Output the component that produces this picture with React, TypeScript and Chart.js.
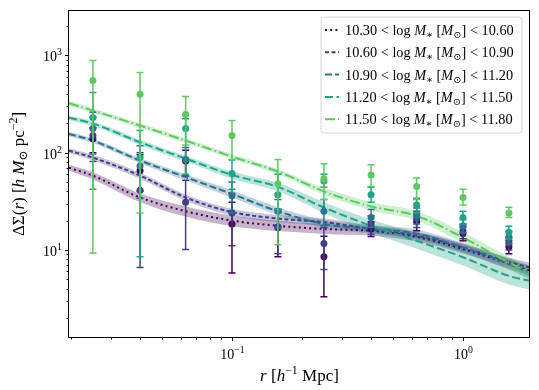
import React, { useEffect, useRef } from "react";
import { Chart, registerables } from "chart.js";
Chart.register(...registerables);

// radial bins (h^-1 Mpc)
const rBins = [0.025, 0.04, 0.063, 0.1, 0.158, 0.25, 0.4, 0.63, 1.0, 1.58];
const rModel = [0.0197, 0.025, 0.04, 0.063, 0.1, 0.158, 0.25, 0.4, 0.63, 1.0, 1.58, 1.95];

const massLow = ["10.30", "10.60", "10.90", "11.20", "11.50"];
const massHigh = ["10.60", "10.90", "11.20", "11.50", "11.80"];
const colors = ["#440154", "#433e85", "#2c728e", "#20a386", "#5ec962"];
const dashes = [[2, 3.2], [4, 2.5], [7, 3], [8, 3.5], [10, 3, 1.5, 3]];

// observed points + error bar bounds
const obs1 = [139, 65, 82, 18.5, 17, 8.5, 16.4, 19.6, 14.7, 10.8];
const obs1Lo = [100, 40, 58, 5.8, 8.5, 3.3, 13.7, 15.7, 12.4, 9.1];
const obs1Hi = [180, 95, 106, 31, 26, 13.8, 19.5, 23.5, 17, 12.5];

const obs2 = [150, 41, 31, 24, 17.3, 11.6, 18.5, 21, 15.7, 11.8];
const obs2Lo = [81, 6.6, 10.1, 11, 9.1, 6.3, 14.5, 17, 13, 10];
const obs2Hi = [230, 100, 52, 38, 26, 17, 22.5, 25, 18.5, 13.7];

const obs3 = [177, 73, 85, 36, 25, 25, 21.5, 22.5, 17.7, 13.4];
const obs3Lo = [97, 34, 58, 24, 17, 17.7, 17, 18.5, 15, 11.5];
const obs3Hi = [260, 118, 113, 50, 33, 33, 26, 27, 20.5, 15.5];

const obs4 = [230, 89, 177, 61, 37, 51, 37, 29, 21.5, 15.2];
const obs4Lo = [42, 8.5, 60, 42, 26, 44, 31, 24, 18.5, 13];
const obs4Hi = [416, 169, 224, 84, 60, 60, 44, 34, 25, 17.5];

const obs5 = [552, 400, 247, 150, 48, 54, 59, 45, 34.5, 24];
const obs5Lo = [9.3, 24, 120, 85, 11.3, 33, 45, 33, 29, 21.5];
const obs5Hi = [888, 667, 378, 214, 85, 77, 75, 55, 42, 27.5];

// model curves + shaded bands
const mod1 = [70, 58, 34.6, 25, 20, 17.7, 16.4, 15.7, 13.6, 10.2, 7.2, 6.1];
const mod1Lo = [65, 53, 31, 22, 17.5, 15.6, 14.6, 14, 12.2, 9.2, 6.4, 5.4];
const mod1Hi = [75, 63, 38, 28, 22.5, 20, 18.4, 17.5, 15.2, 11.4, 8.1, 6.9];

const mod2 = [105, 89, 58, 34.6, 24.5, 21, 19.3, 16.4, 14, 10.6, 7.5, 6.6];
const mod2Lo = [99, 83, 54, 32, 22.5, 19.3, 17.7, 15, 12.8, 9.6, 6.7, 5.8];
const mod2Hi = [111, 95, 62, 37, 26.5, 22.8, 21, 17.8, 15.3, 11.6, 8.3, 7.4];

const mod3 = [156, 133, 83, 56, 37.6, 25, 18.5, 16.4, 14.7, 10.6, 7.2, 5.8];
const mod3Lo = [148, 126, 78, 52, 34.5, 22.8, 16.8, 14.8, 13.2, 9.4, 6.3, 5.0];
const mod3Hi = [164, 140, 88, 60, 41, 27.4, 20.3, 18, 16.2, 11.8, 8.1, 6.6];

const mod4 = [229, 199, 128, 87, 59, 44.5, 27.3, 17.7, 12.4, 8.4, 5.4, 4.8];
const mod4Lo = [217, 188, 120, 81, 54, 40, 24, 15, 10.3, 6.9, 4.4, 3.9];
const mod4Hi = [241, 210, 136, 93, 64, 49, 31, 20.5, 14.8, 10.2, 6.6, 5.9];

const mod5 = [322, 271, 190, 133, 91, 64, 40, 28, 22.4, 13.4, 7.4, 5.8];
const mod5Lo = [305, 256, 180, 126, 86, 60, 37, 25.5, 20, 11.8, 6.4, 5.0];
const mod5Hi = [340, 287, 201, 141, 97, 68, 43.5, 31, 25, 15.2, 8.5, 6.7];

const X_MIN = 0.0197, X_MAX = 1.95, Y_MIN = 1.24, Y_MAX = 2938;

const obs = [obs1, obs2, obs3, obs4, obs5];
const obsLo = [obs1Lo, obs2Lo, obs3Lo, obs4Lo, obs5Lo];
const obsHi = [obs1Hi, obs2Hi, obs3Hi, obs4Hi, obs5Hi];
const mods = [mod1, mod2, mod3, mod4, mod5];
const modsLo = [mod1Lo, mod2Lo, mod3Lo, mod4Lo, mod5Lo];
const modsHi = [mod1Hi, mod2Hi, mod3Hi, mod4Hi, mod5Hi];

const FONT = '"Liberation Serif", "DejaVu Serif", serif';

type Seg = { t: string; it?: boolean; sc?: number; dy?: number };

function fontFor(s: Seg, size: number) {
  return `${s.it ? "italic " : ""}${(size * (s.sc || 1)).toFixed(2)}px ${FONT}`;
}
function segsWidth(ctx: CanvasRenderingContext2D, segs: Seg[], size: number) {
  let w = 0;
  for (const s of segs) {
    ctx.font = fontFor(s, size);
    w += ctx.measureText(s.t).width;
  }
  return w;
}
function drawSegs(ctx: CanvasRenderingContext2D, segs: Seg[], x: number, y: number, size: number) {
  let cx = x;
  ctx.textBaseline = "alphabetic";
  ctx.textAlign = "left";
  for (const s of segs) {
    ctx.font = fontFor(s, size);
    ctx.fillText(s.t, cx, y + (s.dy || 0));
    cx += ctx.measureText(s.t).width;
  }
}

function hexA(hex: string, a: number) {
  const n = parseInt(hex.slice(1), 16);
  return `rgba(${(n >> 16) & 255},${(n >> 8) & 255},${n & 255},${a})`;
}

const supMap: Record<string, string> = { "-1": "\u22121", "0": "0", "1": "1", "2": "2", "3": "3" };

const decorPlugin = {
  id: "decor",
  beforeDatasetDraw(chart: any, args: any) {
    const ds = chart.data.datasets[args.index];
    if (ds.errSeries === undefined) return;
    const s = ds.errSeries;
    const ctx = chart.ctx;
    const xs = chart.scales.x, ys = chart.scales.y;
    const ca = chart.chartArea;
    ctx.save();
    ctx.beginPath();
    ctx.rect(ca.left, ca.top, ca.right - ca.left, ca.bottom - ca.top);
    ctx.clip();
    ctx.strokeStyle = colors[s];
    ctx.lineWidth = 1.5;
    for (let i = 0; i < rBins.length; i++) {
      const px = xs.getPixelForValue(rBins[i]);
      const y1 = ys.getPixelForValue(obsLo[s][i]);
      const y2 = ys.getPixelForValue(obsHi[s][i]);
      ctx.beginPath();
      ctx.moveTo(px, y1); ctx.lineTo(px, y2);
      ctx.moveTo(px - 3.5, y1); ctx.lineTo(px + 3.5, y1);
      ctx.moveTo(px - 3.5, y2); ctx.lineTo(px + 3.5, y2);
      ctx.stroke();
    }
    ctx.restore();
  },
  afterDraw(chart: any) {
    const ctx: CanvasRenderingContext2D = chart.ctx;
    const xs = chart.scales.x, ys = chart.scales.y;
    const { left, right, top, bottom } = chart.chartArea;
    ctx.save();
    // frame
    ctx.strokeStyle = "#000";
    ctx.lineWidth = 1;
    const L = Math.round(left) - 0.5, R = Math.round(right) - 0.5;
    const T = Math.round(top) + 0.5, B = Math.round(bottom) - 0.5;
    ctx.strokeRect(L, T, R - L, B - T);
    // ticks
    ctx.fillStyle = "#000";
    for (let d = -2; d <= 3; d++) {
      for (let m = 1; m <= 9; m++) {
        const v = m * Math.pow(10, d);
        const len = m === 1 ? 3.5 : 2;
        if (v >= X_MIN && v <= X_MAX) {
          const px = Math.round(xs.getPixelForValue(v)) + 0.5;
          ctx.beginPath(); ctx.moveTo(px, B); ctx.lineTo(px, B + len); ctx.stroke();
          if (m === 1) {
            const segs: Seg[] = [{ t: "10" }, { t: supMap[String(d)], sc: 0.7, dy: -6 }];
            const w = segsWidth(ctx, segs, 14);
            drawSegs(ctx, segs, px - w / 2, 359, 14);
          }
        }
      }
    }
    for (let d = 0; d <= 3; d++) {
      for (let m = 1; m <= 9; m++) {
        const v = m * Math.pow(10, d);
        const len = m === 1 ? 3.5 : 2;
        if (v >= Y_MIN && v <= Y_MAX) {
          const py = Math.round(ys.getPixelForValue(v)) + 0.5;
          ctx.beginPath(); ctx.moveTo(L, py); ctx.lineTo(L - len, py); ctx.stroke();
          if (m === 1) {
            const segs: Seg[] = [{ t: "10" }, { t: supMap[String(d)], sc: 0.7, dy: -6 }];
            const w = segsWidth(ctx, segs, 14);
            drawSegs(ctx, segs, 62 - w, py + 5.5, 14);
          }
        }
      }
    }
    // x title
    const xt: Seg[] = [
      { t: "r", it: true }, { t: " [" }, { t: "h", it: true },
      { t: "\u22121", sc: 0.7, dy: -7 }, { t: " Mpc]" },
    ];
    const xw = segsWidth(ctx, xt, 17);
    drawSegs(ctx, xt, (left + right) / 2 - xw / 2, 381, 17);
    // y title
    const yt: Seg[] = [
      { t: "\u0394\u03A3(" }, { t: "r", it: true }, { t: ") [" }, { t: "h", it: true },
      { t: " " }, { t: "M", it: true }, { t: "\u2299", sc: 0.7, dy: 3 },
      { t: " pc" }, { t: "\u22122", sc: 0.7, dy: -7 }, { t: "]" },
    ];
    const yw = segsWidth(ctx, yt, 17);
    ctx.save();
    ctx.translate(24, (top + bottom) / 2);
    ctx.rotate(-Math.PI / 2);
    drawSegs(ctx, yt, -yw / 2, 0, 17);
    ctx.restore();
    // legend
    const bx = 321, by = 17, bw = 201, bh = 116, r = 3;
    ctx.beginPath();
    ctx.moveTo(bx + r, by);
    ctx.arcTo(bx + bw, by, bx + bw, by + bh, r);
    ctx.arcTo(bx + bw, by + bh, bx, by + bh, r);
    ctx.arcTo(bx, by + bh, bx, by, r);
    ctx.arcTo(bx, by, bx + bw, by, r);
    ctx.closePath();
    ctx.fillStyle = "rgba(255,255,255,0.8)";
    ctx.fill();
    ctx.strokeStyle = "#d6d6d6";
    ctx.lineWidth = 1;
    ctx.stroke();
    for (let s = 0; s < 5; s++) {
      const cy = 30 + s * 22.3;
      ctx.strokeStyle = colors[s];
      ctx.lineWidth = 2;
      ctx.setLineDash(dashes[s]);
      ctx.beginPath(); ctx.moveTo(325, cy); ctx.lineTo(339, cy); ctx.stroke();
      ctx.setLineDash([]);
      ctx.fillStyle = "#000";
      const segs: Seg[] = [
        { t: massLow[s] + " < log " }, { t: "M", it: true }, { t: "\u2217", sc: 0.7, dy: 3 },
        { t: " [" }, { t: "M", it: true }, { t: "\u2299", sc: 0.7, dy: 3 },
        { t: "] < " + massHigh[s] },
      ];
      drawSegs(ctx, segs, 345, cy + 5, 14.3);
    }
    ctx.restore();
  },
};

export default function App() {
  const ref = useRef<HTMLCanvasElement>(null);
  useEffect(() => {
    if (!ref.current) return;
    const datasets: any[] = [];
    for (let s = 0; s < 5; s++) {
      datasets.push({
        data: rModel.map((x, i) => ({ x, y: modsHi[s][i] })),
        borderWidth: 0, pointRadius: 0, fill: false, order: 300 - s,
        cubicInterpolationMode: "monotone",
      });
      datasets.push({
        data: rModel.map((x, i) => ({ x, y: modsLo[s][i] })),
        borderWidth: 0, pointRadius: 0, fill: "-1", order: 300 - s,
        backgroundColor: hexA(colors[s], 0.3),
        cubicInterpolationMode: "monotone",
      });
    }
    for (let s = 0; s < 5; s++) {
      datasets.push({
        data: rModel.map((x, i) => ({ x, y: mods[s][i] })),
        borderColor: colors[s], borderWidth: 2, borderDash: dashes[s],
        pointRadius: 0, fill: false, order: 200 - s,
        cubicInterpolationMode: "monotone",
      });
    }
    for (let s = 0; s < 5; s++) {
      datasets.push({
        data: rBins.map((x, i) => ({ x, y: obs[s][i] })),
        showLine: false, pointRadius: 3.5, pointBorderWidth: 0,
        pointBackgroundColor: colors[s], backgroundColor: colors[s], borderColor: colors[s],
        order: 100 - s, errSeries: s,
      });
    }
    const chart = new Chart(ref.current, {
      type: "line",
      data: { datasets },
      options: {
        animation: false,
        responsive: false,
        devicePixelRatio: 1,
        events: [],
        layout: { padding: { top: 10, right: 9, left: 0, bottom: 0 } },
        plugins: { legend: { display: false }, tooltip: { enabled: false } },
        scales: {
          x: {
            type: "logarithmic", min: X_MIN, max: X_MAX,
            grid: { display: false }, border: { display: false },
            ticks: { display: false },
            afterFit: (sc: any) => { sc.height = 52; },
          },
          y: {
            type: "logarithmic", min: Y_MIN, max: Y_MAX,
            grid: { display: false }, border: { display: false },
            ticks: { display: false },
            afterFit: (sc: any) => { sc.width = 69; },
          },
        },
      } as any,
      plugins: [decorPlugin],
    });
    return () => chart.destroy();
  }, []);
  return (
    <div style={{ position: "fixed", left: 0, top: 0, width: 539, height: 390, background: "#fff" }}>
      <canvas ref={ref} width={539} height={390} />
    </div>
  );
}
